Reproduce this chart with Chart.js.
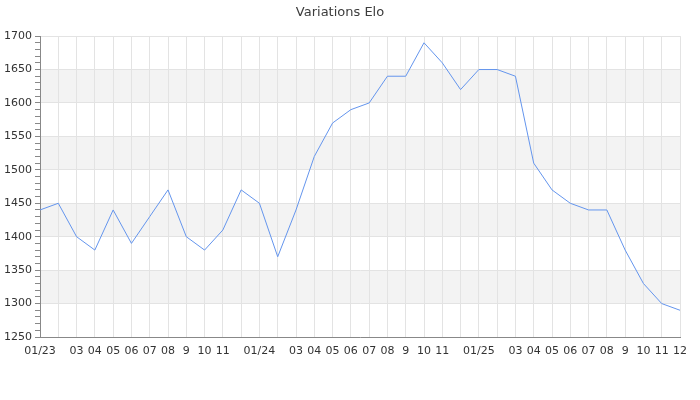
<!DOCTYPE html>
<html>
<head>
<meta charset="utf-8">
<script src="https://cdn.jsdelivr.net/npm/chart.js@4"></script>
<style>
    html, body { margin: 0; padding: 0; background: #fff; }
    #wrap { width: 700px; height: 400px; }
</style>
</head>
<body>
<div id="wrap"><canvas id="eloChart"></canvas></div>
<script>
// months Jan 2023 .. Dec 2025 ('' = label not shown in the original)
const months = [
    '01/23', '', '03', '04', '05', '06', '07', '08', '9', '10', '11', '',
    '01/24', '', '03', '04', '05', '06', '07', '08', '9', '10', '11', '',
    '01/25', '', '03', '04', '05', '06', '07', '08', '9', '10', '11', '12'
];

const elo = [
    1440, 1450, 1400, 1380, 1440, 1390, 1430, 1470, 1400, 1380, 1410, 1470,
    1450, 1370, 1440, 1520, 1570, 1590, 1600, 1640, 1640, 1690, 1660, 1620,
    1650, 1650, 1640, 1510, 1470, 1450, 1440, 1440, 1380, 1330, 1300, 1290
];

const yMin = 1250;
const yMax = 1700;
const yMajor = 50;
const yMinor = 10;

// alternating grey bands between major y ticks
const bandsPlugin = {
    id: 'bands',
    beforeDraw(chart) {
        const { ctx, chartArea: a, scales: { y } } = chart;
        ctx.save();
        ctx.fillStyle = '#f3f3f3';
        for (let v = 1300; v < yMax; v += 2 * yMajor) {
            const top = y.getPixelForValue(v + yMajor);
            const bottom = y.getPixelForValue(v);
            ctx.fillRect(a.left, top, a.right - a.left, bottom - top);
        }
        ctx.restore();
    }
};

const tickFont = { family: 'DejaVu Sans', size: 11 };

new Chart(document.getElementById('eloChart'), {
    type: 'line',
    data: {
        labels: months,
        datasets: [{
            data: elo,
            borderColor: '#6495ed',
            borderWidth: 1,
            pointRadius: 0,
            tension: 0,
            fill: false,
        }]
    },
    options: {
        responsive: true,
        maintainAspectRatio: false,
        animation: false,
        layout: { padding: { left: 0, right: 20, top: 0, bottom: 0 } },
        plugins: {
            legend: { display: false },
            tooltip: { enabled: false },
            title: {
                display: true,
                text: 'Variations Elo',
                color: '#3c3c3c',
                font: { family: 'DejaVu Sans', size: 13, weight: 'normal' },
                padding: { top: 5, bottom: 15.5 }
            }
        },
        scales: {
            x: {
                offset: false,
                afterFit: s => { s.height = 63; },
                grid: { color: '#e3e3e3', drawTicks: false },
                border: { color: '#888' },
                ticks: {
                    autoSkip: false, maxRotation: 0, minRotation: 0,
                    padding: 8, color: '#333', font: tickFont
                }
            },
            y: {
                min: yMin, max: yMax,
                afterFit: s => { s.width = 40; },
                border: { color: '#888' },
                grid: {
                    tickLength: 5,
                    color: c => (c.tick && c.tick.value % yMajor === 0) ? '#e3e3e3' : 'rgba(0,0,0,0)',
                    tickColor: '#888'
                },
                ticks: {
                    stepSize: yMinor, autoSkip: false, padding: 3,
                    color: '#333', font: tickFont,
                    callback: v => v % yMajor === 0 ? v : ''
                }
            }
        }
    },
    plugins: [bandsPlugin]
});
</script>
</body>
</html>
